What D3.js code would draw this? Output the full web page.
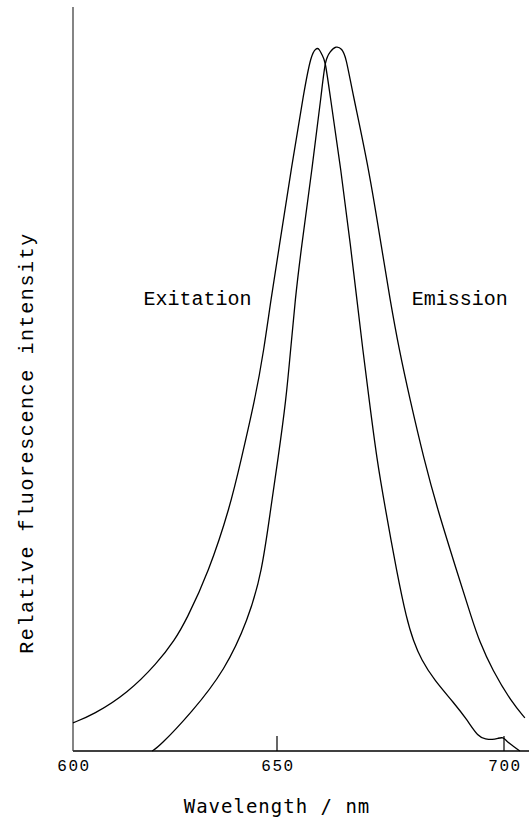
<!DOCTYPE html>
<html lang="en">
<head>
<meta charset="UTF-8">
<title>Fluorescence spectra</title>
<script src="https://cdn.jsdelivr.net/npm/d3@7"></script>
<style>
  html, body { margin: 0; padding: 0; background: #fff; }
  svg { display: block; }
</style>
</head>
<body>
<svg width="529" height="818"></svg>
<script>
// wavelength (nm) / relative intensity (peak of emission = 100)
var excitationNm = [600.0, 604.9, 613.4, 620.7, 624.9, 627.8, 633.2, 638.5, 641.2, 644.6, 646.8, 648.5,
  650.4, 653.1, 656.0, 657.5, 658.6, 659.3, 659.9, 660.6, 661.5, 664.1, 666.3, 667.6, 668.9, 670.3,
  672.0, 673.8, 676.4, 678.6, 680.0, 681.8, 684.6, 689.0, 691.9, 694.3, 696.0, 697.4, 698.7, 699.8,
  700.7, 702.0, 703.5];
var excitationVal = [4.0, 5.1, 8.2, 12.5, 15.7, 18.6, 25.3, 34.6, 41.3, 49.8, 56.9, 64.0,
  71.1, 82.4, 93.8, 98.7, 99.7, 99.6, 98.7, 98.0, 93.8, 82.4, 71.1, 64.0, 56.9, 49.8,
  41.3, 34.6, 25.3, 18.6, 15.7, 12.9, 10.1, 6.8, 4.4, 2.0, 1.7, 1.6, 1.8, 2.0,
  1.3, 0.7, 0];

var emissionNm = [619.4, 621.1, 629.0, 637.3, 642.9, 646.3, 648.5, 650.2, 652.0, 653.0, 654.0,
  655.3, 657.7, 659.9, 660.6, 661.7, 663.0, 664.3, 665.2, 666.5, 670.3, 673.1, 674.9, 676.9, 679.3,
  682.4, 685.2, 689.7, 693.0, 694.5, 697.4, 701.8, 704.6];
var emissionVal = [0, 0.6, 5.4, 11.5, 18.6, 25.3, 34.6, 41.3, 49.8, 56.9, 64.0,
  71.1, 82.4, 93.8, 98.0, 99.2, 100, 99.6, 98.4, 93.8, 82.4, 71.1, 64.0, 56.9, 49.8,
  41.3, 34.6, 25.3, 18.6, 15.7, 11.5, 6.8, 4.7];

var xTicks = [600, 650, 700];
var xTitle = "Wavelength / nm";
var yTitle = "Relative fluorescence intensity";
var labels = [{text: "Exitation", nm: 617.3}, {text: "Emission", nm: 679.7}];

var svg = d3.select("svg");
var width = 529, height = 818;
svg.append("rect").attr("width", width).attr("height", height).attr("fill", "#fff");

// scanned axis is slightly uneven, so the scale follows the printed ticks
var x = d3.scaleLinear().domain([600, 650, 700]).range([73, 277, 504]);
var y = d3.scaleLinear().domain([0, 105.5]).range([751, 7]);

var g = svg.append("g");

// axes
g.append("line")
  .attr("x1", x(600)).attr("x2", width)
  .attr("y1", y(0)).attr("y2", y(0))
  .attr("stroke", "#000").attr("stroke-width", 1.6);
g.append("line")
  .attr("x1", x(600)).attr("x2", x(600))
  .attr("y1", y(0)).attr("y2", y(105.5))
  .attr("stroke", "#333").attr("stroke-width", 1.2);

g.selectAll(".tick")
  .data(xTicks.slice(1))
  .enter().append("line")
  .attr("x1", function(d) { return x(d); }).attr("x2", function(d) { return x(d); })
  .attr("y1", y(0)).attr("y2", y(0) - 15)
  .attr("stroke", "#000").attr("stroke-width", 1.2);

g.selectAll(".tickLabel")
  .data(xTicks)
  .enter().append("text")
  .attr("x", function(d) { return x(d) + 1; })
  .attr("y", 771)
  .attr("text-anchor", "middle")
  .attr("font-family", "'Liberation Mono', monospace")
  .attr("font-size", 16)
  .attr("letter-spacing", 1.5)
  .text(function(d) { return d; });

g.append("text")
  .attr("x", 277).attr("y", 813)
  .attr("text-anchor", "middle")
  .attr("font-family", "'DejaVu Sans Mono', monospace")
  .attr("font-size", 19)
  .attr("letter-spacing", 1)
  .text(xTitle);

g.append("text")
  .attr("transform", "translate(33,443) rotate(-90)")
  .attr("text-anchor", "middle")
  .attr("font-family", "'Liberation Mono', monospace")
  .attr("font-size", 20)
  .attr("letter-spacing", 1.6)
  .text(yTitle);

// curves (B-spline smooths out the reading noise of the scanned trace)
var line = d3.line()
  .x(function(d) { return x(d[0]); })
  .y(function(d) { return y(d[1]); })
  .curve(d3.curveBasis);

var series = [d3.zip(excitationNm, excitationVal), d3.zip(emissionNm, emissionVal)];
g.selectAll(".curve")
  .data(series)
  .enter().append("path")
  .attr("d", line)
  .attr("fill", "none")
  .attr("stroke", "#000")
  .attr("stroke-width", 1.3);

g.selectAll(".label")
  .data(labels)
  .enter().append("text")
  .attr("x", function(d) { return x(d.nm); })
  .attr("y", 305)
  .attr("font-family", "'Liberation Mono', monospace")
  .attr("font-size", 20)
  .text(function(d) { return d.text; });
</script>
</body>
</html>
